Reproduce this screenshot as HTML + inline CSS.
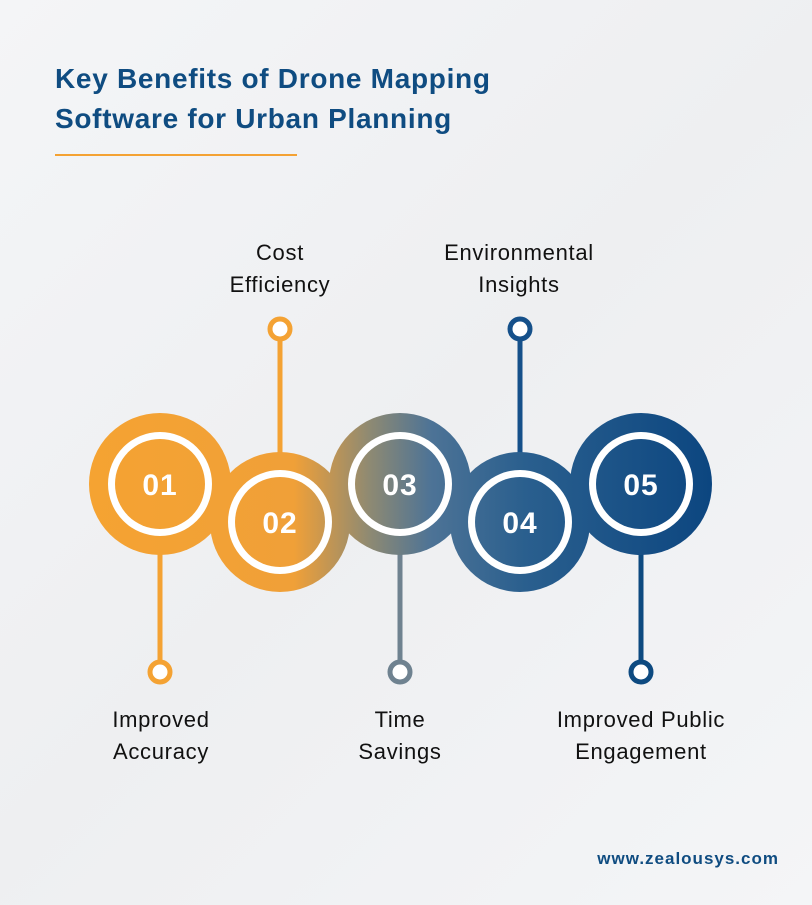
<!DOCTYPE html>
<html><head><style>
body{margin:0;background:#f2f3f5;}
.w{position:relative;width:812px;height:905px;overflow:hidden;font-family:"Liberation Sans",sans-serif;background:linear-gradient(135deg,#f4f5f7,#eeeff1 50%,#f4f5f7);}
.t{position:absolute;left:55px;top:59px;color:#0f4c81;font-weight:bold;font-size:28px;line-height:40px;letter-spacing:0.7px;}
.l{position:absolute;color:#111;font-size:22px;line-height:32px;text-align:center;width:240px;letter-spacing:0.7px;}
.u{position:absolute;right:33px;top:849px;color:#0f4c81;font-weight:bold;font-size:17px;letter-spacing:1px;}
</style></head><body><div class="w">
<div class="t">Key Benefits of Drone Mapping<br>Software for Urban Planning</div>
<div style="position:absolute;left:55px;top:154px;width:242px;height:2px;background:#f4a233"></div>
<svg width="812" height="905" style="position:absolute;left:0;top:0">
<defs><linearGradient id="g" gradientUnits="userSpaceOnUse" x1="88" y1="0" x2="712" y2="0">
<stop offset="0" stop-color="#f5a332"/><stop offset="0.33" stop-color="#f0a038"/><stop offset="0.45" stop-color="#8f8a72"/><stop offset="0.55" stop-color="#4d7396"/><stop offset="0.7" stop-color="#2a5f8e"/><stop offset="1" stop-color="#0c4680"/></linearGradient></defs>
<g stroke-width="5" fill="#fff">
<line x1="280" y1="335" x2="280" y2="460" stroke="#f4a233"/><circle cx="280" cy="329" r="10" stroke="#f4a233"/>
<line x1="520" y1="335" x2="520" y2="460" stroke="#15508a"/><circle cx="520" cy="329" r="10" stroke="#15508a"/>
<line x1="160" y1="540" x2="160" y2="666" stroke="#f4a233"/><circle cx="160" cy="672" r="10" stroke="#f4a233"/>
<line x1="400" y1="540" x2="400" y2="666" stroke="#6f8290"/><circle cx="400" cy="672" r="10" stroke="#6f8290"/>
<line x1="641" y1="540" x2="641" y2="666" stroke="#0d4a80"/><circle cx="641" cy="672" r="10" stroke="#0d4a80"/>
</g>
<g fill="url(#g)">
<circle cx="160" cy="484" r="71"/><circle cx="280" cy="522" r="70"/><circle cx="400" cy="484" r="71"/><circle cx="520" cy="522" r="70"/><circle cx="641" cy="484" r="71"/>
</g>
<g>
<circle cx="160" cy="484" r="52" fill="#fff"/><circle cx="160" cy="484" r="45" fill="url(#g)"/>
<circle cx="280" cy="522" r="52" fill="#fff"/><circle cx="280" cy="522" r="45" fill="url(#g)"/>
<circle cx="400" cy="484" r="52" fill="#fff"/><circle cx="400" cy="484" r="45" fill="url(#g)"/>
<circle cx="520" cy="522" r="52" fill="#fff"/><circle cx="520" cy="522" r="45" fill="url(#g)"/>
<circle cx="641" cy="484" r="52" fill="#fff"/><circle cx="641" cy="484" r="45" fill="url(#g)"/>
</g>
<g fill="#fff" font-family="Liberation Sans" font-weight="bold" font-size="30" text-anchor="middle" letter-spacing="1">
<text x="160" y="495">01</text><text x="280" y="533">02</text><text x="400" y="495">03</text><text x="520" y="533">04</text><text x="641" y="495">05</text>
</g>
</svg>
<div class="l" style="left:160px;top:237px">Cost<br>Efficiency</div>
<div class="l" style="left:399px;top:237px">Environmental<br>Insights</div>
<div class="l" style="left:41px;top:704px">Improved<br>Accuracy</div>
<div class="l" style="left:280px;top:704px">Time<br>Savings</div>
<div class="l" style="left:521px;top:704px">Improved Public<br>Engagement</div>
<div class="u">www.zealousys.com</div>
</div></body></html>
